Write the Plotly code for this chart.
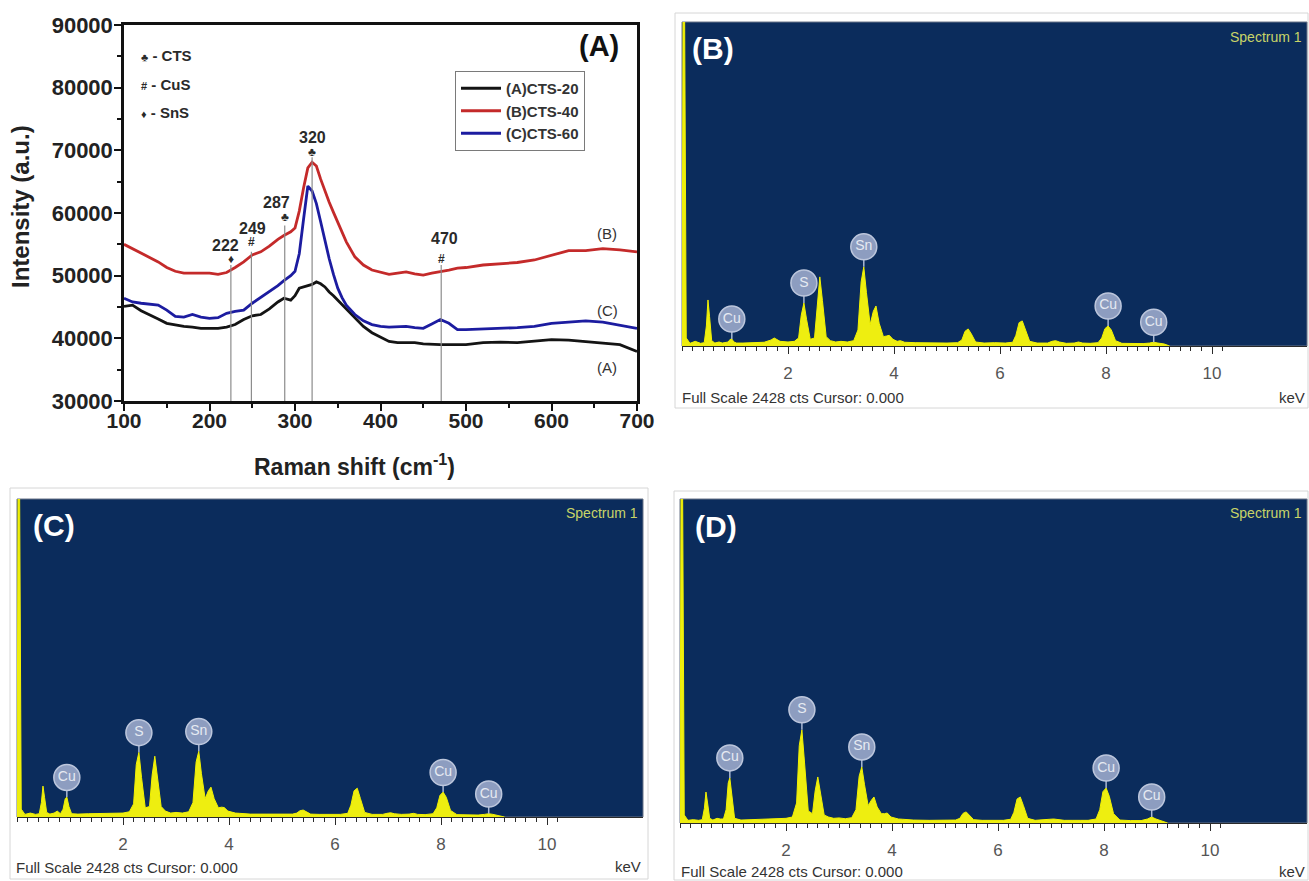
import plotly.graph_objects as go

W, H = 1309, 881
FONT = "Liberation Sans, Arial, Helvetica, sans-serif"


def px(x):
    return x / W


def py(y):
    return 1 - y / H


# ---------------- Panel (A): Raman spectra ----------------
raman_shift = [100, 110, 120, 130, 140, 150, 160, 170, 180, 190, 200, 210, 220, 230, 240, 250, 260, 270, 280,
               287, 295,
               300, 305, 310, 315, 320, 325, 330, 335, 340, 345, 350, 355, 360,
               370, 380, 390, 400, 410, 420, 430, 440, 450, 460, 470, 480, 490, 500,
               520, 540, 560, 580, 600, 620, 640, 660, 680, 700]

cts40 = [55000, 54300, 53500, 52800, 52200, 51300, 50700, 50400, 50400, 50300, 50400, 50200, 50500, 51300, 52200,
         53300, 53800, 54700, 55800,
         56400, 57000,
         57600, 60300, 64000, 67200, 68100, 67500, 65400, 63400, 61700, 60100, 58600, 57000, 55400,
         53000, 51700, 50900, 50600, 50200, 50400, 50600, 50300, 50100, 50400, 50600, 50900, 51200, 51300,
         51700, 51900, 52100, 52500, 53300, 54000, 54000, 54300, 54100, 53800]

cts60 = [46400, 45800, 45600, 45500, 45300, 44500, 43500, 43400, 43800, 43400, 43200, 43300, 44000, 44300, 44500,
         45600, 46500, 47400, 48400,
         49200, 50000,
         50700, 53500, 59000, 64300, 63500, 61500, 58600, 55500, 52700, 50200, 48000, 46500, 45300,
         43800, 42800, 42200, 41900, 41800, 41900, 41900, 41700, 41600, 42300, 43000, 42400, 41400, 41400,
         41500, 41500, 41700, 41900, 42400, 42600, 42800, 42600, 42100, 41600]

cts20 = [45100, 45300, 44400, 43800, 43100, 42400, 42100, 41900, 41800, 41600, 41600, 41600, 41800, 42200, 43000,
         43600, 43800, 44700, 45800,
         46400, 46100,
         46800, 48000, 48200, 48400, 48600, 49000, 48700, 48200, 47400, 46800, 46100, 45400, 44800,
         43300, 41900, 40900, 40200, 39500, 39300, 39300, 39300, 39100, 39000, 39000, 39000, 39000, 39000,
         39300, 39400, 39300, 39500, 39800, 39700, 39500, 39300, 39000, 37900]

series_names = ["(A)CTS-20", "(B)CTS-40", "(C)CTS-60"]
series_colors = ["#141414", "#c42a2a", "#1c1ca0"]

peak_labels = ["222", "249", "287", "320", "470"]
peak_line_x = [225, 249, 288, 320, 471]
peak_line_top = [51700, 53800, 58000, 68900, 51700]
peak_symbols = ["♦", "#", "♣", "♣", "#"]
peak_symbol_y = [52600, 55300, 59300, 69800, 52600]
peak_label_x = [219, 250, 278, 320, 475]
peak_label_y = [54800, 57600, 61600, 72100, 55900]

phase_symbols = ["♣", "#", "♦"]
phase_names = ["CTS", "CuS", "SnS"]
phase_y = [85200, 80500, 76000]

curve_tags = ["(B)", "(C)", "(A)"]
curve_tag_y = [56700, 44500, 35300]

# ---------------- Panels (B)-(D): EDS spectra ----------------
energy_keV = [0.00, 0.02, 0.05, 0.08, 0.15, 0.25, 0.35, 0.42, 0.46, 0.49, 0.52, 0.56, 0.62,
              0.70, 0.76, 0.82, 0.87, 0.91, 0.94, 0.98, 1.03, 1.15, 1.35, 1.55, 1.68, 1.74, 1.85, 2.00, 2.12,
              2.20, 2.25, 2.30, 2.35, 2.42, 2.50, 2.55, 2.60, 2.65, 2.72, 2.80, 2.90, 3.00, 3.12, 3.24,
              3.32, 3.38, 3.43, 3.48, 3.55, 3.61, 3.66, 3.72, 3.80, 3.86, 3.91, 3.98, 4.06, 4.12, 4.20,
              4.40, 4.70, 5.00, 5.20, 5.28, 5.34, 5.40, 5.46, 5.54, 5.70, 5.90, 6.10, 6.24, 6.30, 6.36,
              6.42, 6.48, 6.56,
              6.70, 6.90, 6.98, 7.05, 7.12, 7.25, 7.40, 7.48, 7.56, 7.70, 7.85, 7.92, 7.98, 8.04, 8.10,
              8.18, 8.30, 8.50, 8.70, 8.82, 8.90, 8.98, 9.10, 9.20]

counts_B = [0, 2428, 2428, 60, 20, 35, 20, 25, 150, 345, 220, 40, 22,
            30, 22, 25, 30, 50, 52, 30, 22, 22, 25, 28, 45, 60, 35, 30, 35,
            60, 230, 322, 200, 50, 60, 300, 518, 340, 70, 40, 30, 35, 30, 40,
            120, 480, 593, 400, 160, 260, 300, 170, 70, 75, 80, 50, 35, 40, 28,
            25, 22, 22, 25, 45, 110, 128, 90, 30, 22, 25, 22, 28, 80, 175, 188, 120, 35,
            22, 22, 35, 40, 30, 20, 22, 30, 22, 20, 25, 60, 130, 150, 120, 40, 20, 18, 18, 22, 28, 22, 15, 0]

counts_C = [0, 2428, 2428, 60, 20, 30, 20, 25, 110, 236, 150, 35, 22,
            30, 45, 25, 60, 140, 152, 80, 25, 22, 25, 25, 28, 30, 28, 30, 40,
            100, 400, 494, 300, 70, 80, 320, 464, 300, 80, 45, 30, 35, 30, 40,
            110, 420, 502, 330, 140, 200, 228, 140, 70, 75, 72, 45, 35, 30, 28,
            22, 22, 20, 22, 30, 48, 53, 40, 22, 20, 22, 20, 28, 90, 200, 220, 140, 35,
            20, 20, 28, 32, 25, 20, 22, 28, 20, 18, 25, 70, 165, 190, 150, 50, 18, 15, 15, 20, 25, 20, 12, 0]

counts_D = [0, 2428, 2428, 60, 20, 25, 20, 25, 110, 232, 150, 35, 22,
            35, 30, 30, 100, 300, 338, 180, 35, 22, 25, 28, 28, 30, 32, 35, 45,
            150, 580, 698, 450, 90, 70, 240, 345, 230, 60, 45, 35, 38, 32, 40,
            100, 350, 420, 290, 130, 170, 195, 120, 70, 70, 75, 45, 35, 30, 28,
            22, 20, 22, 22, 35, 72, 83, 60, 25, 20, 22, 20, 28, 80, 180, 195, 130, 35,
            20, 22, 28, 30, 25, 20, 20, 22, 20, 20, 30, 100, 235, 262, 200, 70, 22, 18, 18, 30, 45, 30, 15, 0]

full_scale = 2428
element_names = ["Cu", "S", "Sn", "Cu", "Cu"]
element_keV = [0.94, 2.30, 3.43, 8.04, 8.90]
eds_tick_vals = list(range(0, 11))
eds_tick_text = ["", "", "2", "", "4", "", "6", "", "8", "", "10"]

# ---------------- Figure ----------------
fig = go.Figure()

for name, col, ys in zip(series_names, series_colors, [cts20, cts40, cts60]):
    fig.add_trace(go.Scatter(x=raman_shift, y=ys, mode="lines", name=name,
                             line=dict(color=col, width=2.8), xaxis="x", yaxis="y"))

# vertical peak marker lines
vx, vy = [], []
for x0, top in zip(peak_line_x, peak_line_top):
    vx += [x0, x0, None]
    vy += [30000, top, None]
fig.add_trace(go.Scatter(x=vx, y=vy, mode="lines", line=dict(color="#8c8c8c", width=1.2),
                         showlegend=False, hoverinfo="skip", xaxis="x", yaxis="y"))

annotations = []
for lx, ly, lab, sx, sy, sym in zip(peak_label_x, peak_label_y, peak_labels, peak_line_x, peak_symbol_y,
                                    peak_symbols):
    annotations.append(dict(x=lx, y=ly, xref="x", yref="y", text="<b>%s</b>" % lab, showarrow=False,
                            xanchor="center", yanchor="middle",
                            font=dict(family=FONT, size=16, color="#2a2a2a")))
    annotations.append(dict(x=sx, y=sy, xref="x", yref="y", text="<b>%s</b>" % sym, showarrow=False,
                            xanchor="center", yanchor="middle",
                            font=dict(family=FONT, size=12, color="#2a2a2a")))

for sym, nm, yv in zip(phase_symbols, phase_names, phase_y):
    annotations.append(dict(x=117, y=yv, xref="x", yref="y", xanchor="left", yanchor="middle",
                            text="<b><span style='font-size:11px'>%s</span> - %s</b>" % (sym, nm),
                            showarrow=False, font=dict(family=FONT, size=15, color="#2a2a2a")))

for tag, yv in zip(curve_tags, curve_tag_y):
    annotations.append(dict(x=665, y=yv, xref="x", yref="y", text=tag, showarrow=False,
                            xanchor="center", yanchor="middle",
                            font=dict(family=FONT, size=15, color="#333333")))

annotations.append(dict(x=px(599), y=py(46), xref="paper", yref="paper", text="<b>(A)</b>", showarrow=False,
                        xanchor="center", yanchor="middle",
                        font=dict(family=FONT, size=29, color="#111111")))
annotations.append(dict(x=px(354), y=py(465), xref="paper", yref="paper",
                        text="<b>Raman shift (cm<sup>-1</sup>)</b>", showarrow=False,
                        xanchor="center", yanchor="middle",
                        font=dict(family=FONT, size=23, color="#222222")))
annotations.append(dict(x=px(21), y=py(207), xref="paper", yref="paper", text="<b>Intensity (a.u.)</b>",
                        textangle=-90, showarrow=False, xanchor="center", yanchor="middle",
                        font=dict(family=FONT, size=24, color="#222222")))

shapes = []

layout = dict(
    width=W, height=H, margin=dict(l=0, r=0, t=0, b=0, pad=0),
    paper_bgcolor="white", plot_bgcolor="white",
    font=dict(family=FONT),
    showlegend=True,
    legend=dict(x=px(455), y=py(71), xanchor="left", yanchor="top", bgcolor="white",
                bordercolor="#7a7a7a", borderwidth=1, font=dict(family=FONT, size=15, color="#333333",
                                                                 weight="bold"),
                itemwidth=40, tracegroupgap=0, traceorder="normal"),
    xaxis=dict(domain=[px(124), px(637)], range=[100, 700], anchor="y", automargin=False,
               showgrid=False, zeroline=False, showline=True, linecolor="#111", linewidth=2.5, mirror=True,
               ticks="outside", ticklen=7, tickwidth=2, tickcolor="#111", tickvals=list(range(100, 701, 100)),
               ticklabelstandoff=-8,
               minor=dict(ticks="outside", ticklen=4, tickwidth=2, tickcolor="#111", dtick=50, tick0=100),
               tickfont=dict(family=FONT, size=21, color="#222", weight="bold")),
    yaxis=dict(domain=[py(401), py(25)], range=[30000, 90000], anchor="x", automargin=False,
               showgrid=False, zeroline=False, showline=True, linecolor="#111", linewidth=2.5, mirror=True,
               ticks="outside", ticklen=7, tickwidth=2, tickcolor="#111", tickvals=list(range(30000, 90001, 10000)),
               tickformat="d", ticklabelstandoff=-3,
               minor=dict(ticks="outside", ticklen=4, tickwidth=2, tickcolor="#111", dtick=5000, tick0=30000),
               tickfont=dict(family=FONT, size=22, color="#222", weight="bold")),
)

eds_panels = [
    dict(n=2, tag="(B)", counts=counts_B, xd=(682, 1307), yd=(22, 346), tagpos=(713, 48), specpos=(1304, 37),
         fullpos=(680, 397), kevpos=(1307, 397), border=(675, 13, 1308, 408)),
    dict(n=3, tag="(C)", counts=counts_C, xd=(17, 643), yd=(499, 817), tagpos=(54, 525), specpos=(640, 513),
         fullpos=(14, 867), kevpos=(643, 866), border=(10, 488, 648, 879)),
    dict(n=4, tag="(D)", counts=counts_D, xd=(680, 1307), yd=(499, 823), tagpos=(716, 526), specpos=(1304, 513),
         fullpos=(679, 871), kevpos=(1307, 871), border=(674, 491, 1308, 880)),
]

KEV_PER_PX = 1 / 53.0
minor_vals = [round(0.2 * k, 1) for k in range(0, 52)]

for p in eds_panels:
    n = p["n"]
    xa, ya = "x%d" % n, "y%d" % n
    x0, x1 = p["xd"]
    yt, yb = p["yd"]
    xmax = (x1 - x0) * KEV_PER_PX
    layout["xaxis%d" % n] = dict(domain=[px(x0), px(x1)], range=[0, xmax], anchor=ya, automargin=False,
                                 showgrid=False, zeroline=False, showline=True, linecolor="#2a2a2a",
                                 linewidth=1.2, ticks="outside", ticklen=7, tickwidth=1.2, tickcolor="#2a2a2a",
                                 tickmode="array", tickvals=eds_tick_vals, ticktext=eds_tick_text,
                                 ticklabelstandoff=4,
                                 minor=dict(ticks="outside", ticklen=4, tickwidth=1, tickcolor="#2a2a2a",
                                            tickmode="array", tickvals=minor_vals),
                                 tickfont=dict(family=FONT, size=17, color="#555555"))
    layout["yaxis%d" % n] = dict(domain=[py(yb), py(yt)], range=[0, full_scale], anchor=xa, visible=False,
                                 automargin=False)

    # panel frame and dark plotting area
    bx0, by0, bx1, by1 = p["border"]
    shapes.append(dict(type="rect", xref="paper", yref="paper", x0=px(bx0), x1=px(bx1), y0=py(by1), y1=py(by0),
                       line=dict(color="#d6d6d6", width=1), fillcolor="rgba(0,0,0,0)", layer="below"))
    shapes.append(dict(type="rect", xref="%s domain" % xa, yref="%s domain" % ya, x0=0, x1=1, y0=0, y1=1,
                       line=dict(color="#6a7488", width=1), fillcolor="#0b2c5c", layer="below"))

    cts = p["counts"]
    fig.add_trace(go.Scatter(x=energy_keV, y=cts, mode="lines", fill="tozeroy", fillcolor="#eeee10",
                             line=dict(color="#f2f200", width=1), showlegend=False, hoverinfo="skip",
                             xaxis=xa, yaxis=ya, cliponaxis=True))

    # element badges with stems
    peak_vals = [cts[energy_keV.index(e)] for e in element_keV]
    offset = 150
    sx, sy = [], []
    for e, v in zip(element_keV, peak_vals):
        sx += [e, e, None]
        sy += [v, v + offset, None]
    fig.add_trace(go.Scatter(x=sx, y=sy, mode="lines", line=dict(color="#aab8d4", width=1.5),
                             showlegend=False, hoverinfo="skip", xaxis=xa, yaxis=ya))
    fig.add_trace(go.Scatter(x=element_keV, y=[v + offset for v in peak_vals], mode="markers+text",
                             text=element_names, textposition="middle center",
                             textfont=dict(family=FONT, size=14, color="#e6eaf2"),
                             marker=dict(symbol="circle", size=26, color="#8d9dc0",
                                         line=dict(color="#bcc6dc", width=1.5)),
                             showlegend=False, hoverinfo="skip", xaxis=xa, yaxis=ya))

    annotations.append(dict(x=px(p["tagpos"][0]), y=py(p["tagpos"][1]), xref="paper", yref="paper",
                            text="<b>%s</b>" % p["tag"], showarrow=False, xanchor="center", yanchor="middle",
                            font=dict(family=FONT, size=30, color="#ffffff")))
    annotations.append(dict(x=px(p["specpos"][0]), y=py(p["specpos"][1]), xref="paper", yref="paper",
                            xanchor="right", yanchor="middle", text="Spectrum 1", showarrow=False,
                            font=dict(family=FONT, size=14, color="#c8d468")))
    annotations.append(dict(x=px(p["fullpos"][0]), y=py(p["fullpos"][1]), xref="paper", yref="paper",
                            xanchor="left", yanchor="middle", text="Full Scale %d cts Cursor: 0.000" % full_scale,
                            showarrow=False, font=dict(family=FONT, size=15, color="#333333")))
    annotations.append(dict(x=px(p["kevpos"][0]), y=py(p["kevpos"][1]), xref="paper", yref="paper",
                            xanchor="right", yanchor="middle", text="keV", showarrow=False,
                            font=dict(family=FONT, size=15, color="#333333")))

layout["annotations"] = annotations
layout["shapes"] = shapes
fig.update_layout(**layout)

fig.write_html("out.html", config={"displayModeBar": False},
               post_script="document.body.style.margin='0px';")
